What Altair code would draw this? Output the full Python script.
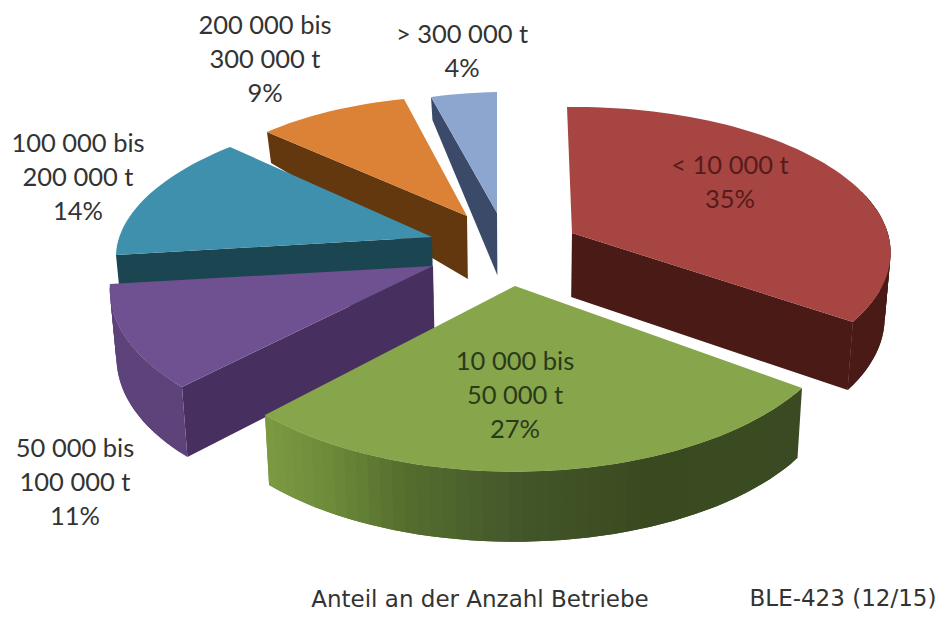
import altair as alt
import numpy as np

# --- values ---
CATEGORIES = ["< 10 000 t", "10 000 bis 50 000 t", "50 000 bis 100 000 t",
              "100 000 bis 200 000 t", "200 000 bis 300 000 t", "> 300 000 t"]
SHARES = [35, 27, 11, 14, 9, 4]
LABEL_LINES = [["< 10 000 t"], ["10 000 bis", "50 000 t"], ["50 000 bis", "100 000 t"],
               ["100 000 bis", "200 000 t"], ["200 000 bis", "300 000 t"], ["> 300 000 t"]]

# --- styles ---
TOP = ["#A64541", "#87A54A", "#6F5090", "#3F90AC", "#DC8236", "#8DA6CF"]
WALL = ["#4A1A17", "#000000", "#47305F", "#1C4552", "#63380F", "#3A4A68"]
RIM = [[(500, "#4A1A17"), (900, "#4A1A17")],
       [(265, "#7C9A42"), (330, "#6D8A3A"), (400, "#566F2E"), (520, "#43562A"), (650, "#3A4A20"), (800, "#3A4A22")],
       [(100, "#5D437A"), (200, "#5D437A")], None, None, None]
RIM_SKIP = [0.6, 0.0, 0.0, 0.0, 0.0, 0.0]
WALL_AT = ["end", None, "start", "start", "start", "start"]
LABEL_COLOR = ["#571B1B", "#2A3A1A", "#333333", "#333333", "#333333", "#333333"]

# --- layout: where each exploded slice lands in the perspective view ---
APEX = [(572, 233), (515, 286), (433, 266), (432, 237), (467, 216), (497, 213)]
RIM_START = [(567, 107), (802, 388), (182, 387), (116, 255), (267, 132), (431, 97)]
RIM_END = [(853, 322), (265, 415), (110, 284), (230, 147), (404, 99), (497, 92)]
PERSPECTIVE = [0.14, 0.15, 0.1, 0.05, 0.0, 0.0]
LABEL_CENTER = [(730, 183), (515, 396), (75, 483), (78, 178), (265, 60), (462, 52)]
LINE_STEP = 34
DEPTH_Y = [97, 132, 215, 233, 320, 390]
DEPTH = [23, 31, 63, 64, 68, 70]
STEP_DEG = 2.0


def hex2rgb(h):
    return [int(h[i:i + 2], 16) for i in (1, 3, 5)]


def mix(stops, x):
    xs = [s[0] for s in stops]
    cols = np.array([hex2rgb(s[1]) for s in stops], dtype=float)
    rgb = [int(round(np.interp(x, xs, cols[:, k]))) for k in range(3)]
    return "#%02X%02X%02X" % tuple(rgb)


def drop(p):
    d = float(np.interp(p[1], DEPTH_Y, DEPTH))
    return (p[0] + (520 - p[0]) * 0.016, p[1] + d)


def poly(pts, fill):
    pts = [list(map(float, p)) for p in pts]
    return {"type": "Feature", "properties": {"fill": fill},
            "geometry": {"type": "Polygon", "coordinates": [pts + [pts[0]]]}}


edges = np.cumsum([0] + SHARES) / sum(SHARES) * 2 * np.pi
paint_order = [5, 4, 3, 2, 0, 1]
features = []
for i in paint_order:
    t1, t2 = edges[i], edges[i + 1]
    A = np.array(APEX[i], dtype=float)
    p = PERSPECTIVE[i]
    w = lambda t: 1 + p * np.cos(t)
    M = np.array([[np.sin(t1), np.cos(t1)], [np.sin(t2), np.cos(t2)]])
    B = np.array([(np.array(RIM_START[i]) - A) * w(t1), (np.array(RIM_END[i]) - A) * w(t2)])
    UV = np.linalg.solve(M, B)
    U, V = UV[0], UV[1]
    n = max(2, int(np.degrees(t2 - t1) / STEP_DEG))
    rim = [A + (np.sin(t) * U + np.cos(t) * V) / w(t) for t in np.linspace(t1, t2, n + 1)]
    if WALL_AT[i]:
        E = rim[-1] if WALL_AT[i] == "end" else rim[0]
        features.append(poly([A, E, drop(E), drop(A)], WALL[i]))
    if RIM[i]:
        first = int(RIM_SKIP[i] * n)
        # each strip reaches over its neighbour, so that the next one paints over the seam
        for k in range(first, n):
            a = rim[k]
            b = rim[min(k + 2, n)]
            mid = rim[min(k + 1, n)]
            features.append(poly([a, mid, b, drop(b), drop(mid), drop(a)],
                                 mix(RIM[i], (a[0] + mid[0]) / 2)))
    features.append(poly([A] + rim, TOP[i]))

pie = alt.Chart(alt.Data(values=features)).mark_geoshape(strokeWidth=0).encode(
    fill=alt.Fill("properties.fill:N", scale=None, legend=None),
).project(type="identity", scale=1, translate=[-8, -8])

rows = []
for i, (lines, share) in enumerate(zip(LABEL_LINES, SHARES)):
    all_lines = lines + [f"{share}%"]
    cx, cy = LABEL_CENTER[i]
    for k, s in enumerate(all_lines):
        rows.append({"t": s, "x": cx - 8, "y": cy - 8 + (k - (len(all_lines) - 1) / 2) * LINE_STEP,
                     "c": LABEL_COLOR[i]})

labels = alt.Chart(alt.Data(values=rows)).mark_text(
    font="Lato", fontSize=25.5, baseline="middle", align="center").encode(
    x=alt.X("x:Q", scale=None, axis=None), y=alt.Y("y:Q", scale=None, axis=None),
    text="t:N", color=alt.Color("c:N", scale=None, legend=None))

foot = [{"t": "Anteil an der Anzahl Betriebe", "x": 480 - 8, "y": 600 - 8},
        {"t": "BLE-423 (12/15)", "x": 843 - 8, "y": 599 - 8}]
footer = alt.Chart(alt.Data(values=foot)).mark_text(
    font="DejaVu Sans", fontSize=23, baseline="middle", align="center", color="#333333").encode(
    x=alt.X("x:Q", scale=None, axis=None), y=alt.Y("y:Q", scale=None, axis=None), text="t:N")

chart = alt.layer(pie, labels, footer).properties(
    width=930, height=605, padding=0, autosize=alt.AutoSizeParams(type="none"),
    background="#FFFFFF"
).configure_view(stroke=None)

chart.save("out.html", embed_options={"renderer": "svg", "actions": False})
